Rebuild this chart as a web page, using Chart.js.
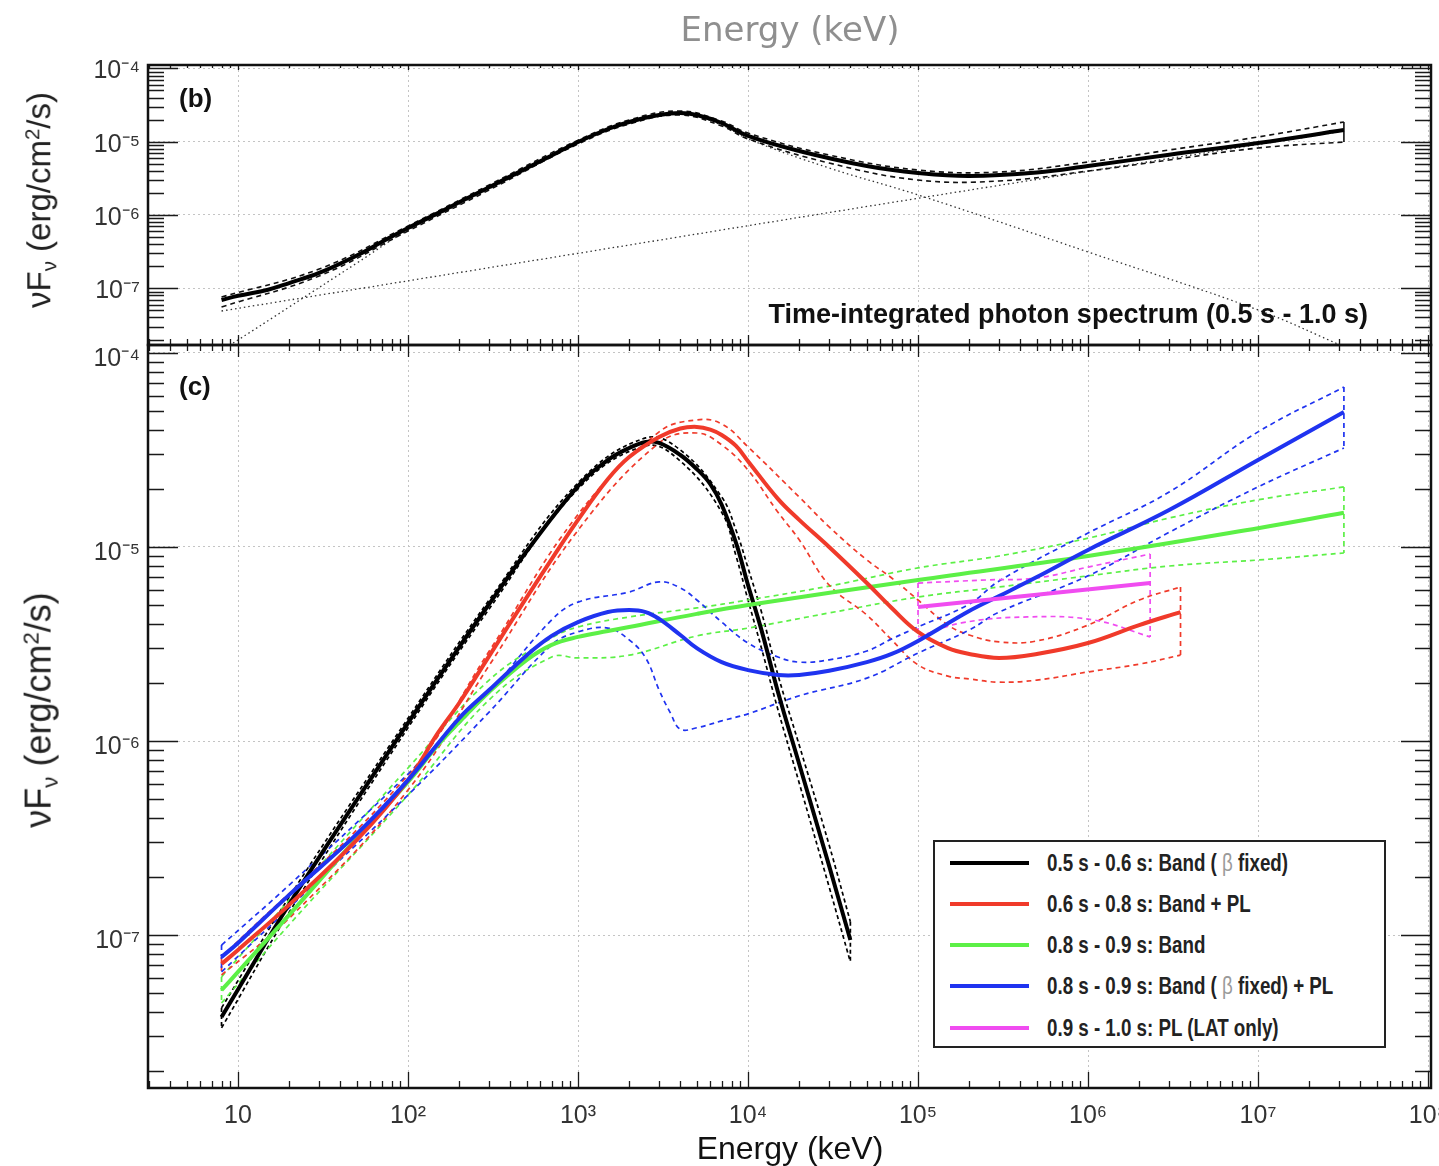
<!DOCTYPE html>
<html>
<head>
<meta charset="utf-8">
<script src="https://cdn.jsdelivr.net/npm/chart.js@4.4.1/dist/chart.umd.min.js"></script>
<style>
html,body{margin:0;padding:0;background:#fff;}
body{width:1439px;height:1166px;position:relative;overflow:hidden;font-family:'Liberation Sans',Arial,sans-serif;color:#111;}
canvas{position:absolute;left:0;}
#cTop{top:0;width:1439px;height:360px;}
#cBot{top:330px;width:1439px;height:836px;}
.txt{position:absolute;white-space:nowrap;line-height:1;}
.ytitle{transform:translate(-50%,-50%) rotate(-90deg);color:#222;}
.ytitle sub{font-size:62%;vertical-align:-0.28em;}
.ytitle sup{font-size:62%;vertical-align:0.55em;}
#legend{position:absolute;left:933px;top:840px;width:453px;height:208px;box-sizing:border-box;border:2px solid #222;background:#fff;}
#legend .row{position:absolute;left:0;height:0;}
#legend .sw{position:absolute;left:15px;top:-2px;width:79px;height:4px;}
#legend .lt{position:absolute;left:112px;top:0;transform-origin:0 50%;white-space:nowrap;font-weight:bold;color:#222;line-height:1;}
#legend .beta{color:#9a9a9a;font-weight:normal;}
</style>
</head>
<body>
<canvas id="cTop" width="1439" height="360"></canvas>
<canvas id="cBot" width="1439" height="836"></canvas>

<div class="txt" id="topTitle" style="left:790px;top:29px;transform:translate(-50%,-50%);font-family:'DejaVu Sans',sans-serif;font-size:34px;color:#8f8f8f;">Energy (keV)</div>
<div class="txt" style="left:179px;top:98px;transform:translateY(-50%);font-weight:bold;font-size:26px;">(b)</div>
<div class="txt" style="left:179px;top:386px;transform:translateY(-50%);font-weight:bold;font-size:26px;">(c)</div>
<div class="txt" style="right:71px;top:314px;transform:translateY(-50%);font-weight:bold;font-size:27px;">Time-integrated photon spectrum (0.5 s - 1.0 s)</div>
<div class="txt ytitle" style="left:41px;top:200px;font-size:33px;">νF<sub>ν</sub> (erg/cm<sup>2</sup>/s)</div>
<div class="txt ytitle" style="left:41px;top:710px;font-size:36px;">νF<sub>ν</sub> (erg/cm<sup>2</sup>/s)</div>
<div class="txt" style="left:790px;top:1148px;transform:translate(-50%,-50%);font-size:32px;color:#111;">Energy (keV)</div>
<div id="legend"></div>

<script>
// ---------------- axis ticks ----------------
const xTickValues = [10, 1e2, 1e3, 1e4, 1e5, 1e6, 1e7, 1e8];
const xTickLabels = ['10', '10²', '10³', '10⁴', '10⁵', '10⁶', '10⁷', '10⁸'];
const yTickValues = [1e-4, 1e-5, 1e-6, 1e-7];
const yTickLabels = ['10⁻⁴', '10⁻⁵', '10⁻⁶', '10⁻⁷'];
const X_MIN = 2.955, X_MAX = 1.041e8;
const YB_MIN = 1.684e-8, YB_MAX = 1.113e-4;   // panel (b)
const YC_MIN = 1.627e-8, YC_MAX = 1.0995e-4;  // panel (c)

// ---------------- panel (b): time-integrated ----------------
const bTotalE = [8,10,15,20,30,50,70,100,150,200,300,500,700,1000,1500,2000,3000,4000,5000,7000,1e4,2e4,5e4,1e5,2e5,5e5,1e6,3e6,1e7,3.2e7];
const bTotalF = [6.92e-8,7.9e-8,9.57e-8,1.18e-7,1.62e-7,2.80e-7,4.28e-7,6.65e-7,1.06e-6,1.49e-6,2.39e-6,4.38e-6,6.50e-6,9.91e-6,1.49e-5,1.86e-5,2.31e-5,2.46e-5,2.31e-5,1.80e-5,1.20e-5,7.47e-6,4.66e-6,3.74e-6,3.40e-6,3.80e-6,4.66e-6,6.65e-6,9.6e-6,1.44e-5];
const bErrE = [8,30,100,300,1000,2000,4000,7000,1e4,3e4,1e5,3e5,1e6,3e6,1e7,3.2e7];
const bUpperF = [7.60e-8,1.83e-7,7.08e-7,2.57e-6,1.05e-5,1.98e-5,2.62e-5,1.91e-5,1.31e-5,6.59e-6,4.11e-6,3.86e-6,5.28e-6,7.71e-6,1.16e-5,1.86e-5];
const bLowerF = [5.56e-8,1.47e-7,6.05e-7,2.19e-6,9.30e-6,1.74e-5,2.31e-5,1.64e-5,1.09e-5,5.12e-6,3.00e-6,2.91e-6,3.98e-6,5.62e-6,8.20e-6,9.91e-6];
const bBandE = [8,10,20,50,100,200,500,1000,2000,4000,7000,1e4,3e4,1e5,1e6,1e7,3.2e7];
const bBandF = [1.44e-8,1.97e-8,5.56e-8,2.21e-7,6.24e-7,1.41e-6,4.11e-6,9.60e-6,1.80e-5,2.39e-5,1.69e-5,1.09e-5,4.38e-6,1.88e-6,3.13e-7,5.06e-8,1.6e-8];
const bPLE = [8,1000,1e5,3.2e7];
const bPLF = [4.9e-8,3.0e-7,1.69e-6,1.40e-5];

// ---------------- panel (c): time-resolved ----------------
// 0.5 s - 0.6 s : Band (beta fixed)
const blackE = [8,10,20,50,100,200,300,500,1000,1500,2000,2500,3000,4000,5000,6000,7000,8500,1e4,1.2e4,1.5e4,2e4,3e4,4e4];
const blackF = [3.78e-8,5.24e-8,1.44e-7,4.97e-7,1.24e-6,3.05e-6,5.08e-6,9.53e-6,2.06e-5,2.81e-5,3.24e-5,3.48e-5,3.44e-5,2.98e-5,2.52e-5,2.11e-5,1.65e-5,1.05e-5,6.37e-6,3.73e-6,1.79e-6,7.61e-7,2.27e-7,9.42e-8];
const blackErrE = [8,20,100,300,1000,2500,4000,7000,8500,1e4,1.2e4,1.5e4,2e4,3e4,4e4];
const blackUpF = [4.21e-8,1.57e-7,1.31e-6,5.33e-6,2.14e-5,3.65e-5,3.16e-5,1.81e-5,1.22e-5,7.80e-6,4.62e-6,2.19e-6,9.53e-7,2.91e-7,1.17e-7];
const blackLoF = [3.32e-8,1.31e-7,1.17e-6,4.79e-6,1.99e-5,3.32e-5,2.77e-5,1.51e-5,8.99e-6,5.33e-6,3.01e-6,1.45e-6,6.08e-7,1.77e-7,7.26e-8];

// 0.6 s - 0.8 s : Band + PL
const redE = [8,10,20,50,100,150,200,300,500,700,1000,1500,2000,3000,4000,5000,6000,7000,8500,1e4,1.5e4,2e4,3e4,5e4,7e4,1e5,1.5e5,2e5,3e5,5e5,1e6,2e6,3.5e6];
const redF = [7.09e-8,8.37e-8,1.43e-7,3.09e-7,6.29e-7,1.10e-6,1.57e-6,2.74e-6,5.52e-6,8.67e-6,1.38e-5,2.24e-5,2.91e-5,3.69e-5,4.08e-5,4.16e-5,4.03e-5,3.78e-5,3.32e-5,2.77e-5,1.77e-5,1.38e-5,1.00e-5,6.52e-6,4.85e-6,3.65e-6,3.01e-6,2.81e-6,2.68e-6,2.81e-6,3.20e-6,3.96e-6,4.62e-6];
const redUpE = [8,100,300,1000,3000,5000,7000,1e4,2e4,3e4,5e4,7e4,1e5,1.5e5,2e5,3e5,5e5,1e6,2e6,3.5e6];
const redUpF = [7.70e-8,6.68e-7,2.90e-6,1.47e-5,3.92e-5,4.52e-5,4.31e-5,3.28e-5,1.81e-5,1.27e-5,8.57e-6,6.92e-6,5.33e-6,3.96e-6,3.52e-6,3.24e-6,3.28e-6,3.96e-6,5.33e-6,6.22e-6];
const redLoE = [8,20,100,300,1000,3000,5000,7000,1e4,1.5e4,2e4,3e4,5e4,7e4,1e5,1.5e5,2e5,3e5,5e5,1e6,2e6,3.5e6];
const redLoF = [6.22e-8,1.22e-7,5.59e-7,2.45e-6,1.22e-5,3.44e-5,3.87e-5,3.36e-5,2.49e-5,1.51e-5,1.09e-5,6.37e-6,4.46e-6,3.32e-6,2.47e-6,2.16e-6,2.09e-6,2.01e-6,2.06e-6,2.27e-6,2.49e-6,2.77e-6];

// 0.8 s - 0.9 s : Band
const greenE = [8,10,20,50,100,150,200,300,500,700,1000,1500,2000,5000,1e4,1e5,1e6,1e7,3.2e7];
const greenF = [5.20e-8,6.45e-8,1.27e-7,3.16e-7,6.15e-7,9.53e-7,1.25e-6,1.79e-6,2.62e-6,3.13e-6,3.44e-6,3.69e-6,3.87e-6,4.52e-6,5.02e-6,6.76e-6,8.99e-6,1.25e-5,1.50e-5];
const greenErrE = [8,20,100,300,700,1000,2000,5000,1e4,3e4,1e5,3e5,1e6,3e6,1e7,3.2e7];
const greenUpF = [6.08e-8,1.51e-7,7.26e-7,2.06e-6,3.40e-6,3.87e-6,4.36e-6,4.85e-6,5.33e-6,6.29e-6,7.80e-6,8.99e-6,1.11e-5,1.41e-5,1.75e-5,2.04e-5];
const greenLoF = [4.46e-8,1.13e-7,5.27e-7,1.63e-6,2.71e-6,2.68e-6,2.77e-6,3.48e-6,3.82e-6,4.57e-6,5.52e-6,6.22e-6,7.10e-6,7.98e-6,8.57e-6,9.31e-6];

// 0.8 s - 0.9 s : Band (beta fixed) + PL
const blueE = [8,10,20,50,100,200,300,500,700,1000,1500,2000,2500,3000,4000,5000,7000,1e4,1.5e4,2e4,3e4,5e4,7e4,1e5,2e5,3e5,5e5,1e6,3e6,1e7,3.2e7];
const blueF = [7.70e-8,9.10e-8,1.61e-7,3.32e-7,6.29e-7,1.31e-6,1.83e-6,2.77e-6,3.48e-6,4.10e-6,4.62e-6,4.73e-6,4.62e-6,4.26e-6,3.52e-6,3.01e-6,2.55e-6,2.32e-6,2.19e-6,2.19e-6,2.30e-6,2.55e-6,2.81e-6,3.28e-6,4.68e-6,5.59e-6,7.00e-6,9.66e-6,1.55e-5,2.81e-5,4.97e-5];
const blueUpE = [8,20,100,300,700,1000,2000,3000,4000,5000,7000,1e4,1.5e4,2e4,3e4,5e4,7e4,1e5,2e5,3e5,1e6,3e6,1e7,3.2e7];
const blueUpF = [8.87e-8,1.81e-7,6.76e-7,1.79e-6,4.21e-6,5.20e-6,5.86e-6,6.61e-6,6.15e-6,5.33e-6,4.10e-6,3.20e-6,2.71e-6,2.55e-6,2.62e-6,2.91e-6,3.36e-6,3.87e-6,5.08e-6,6.68e-6,1.18e-5,1.92e-5,3.92e-5,6.68e-5];
const blueLoE = [8,20,100,300,700,1000,1500,2000,2500,3000,3500,4000,5000,7000,1e4,2e4,5e4,1e5,2e5,3e5,1e6,3e6,1e7,3.2e7];
const blueLoF = [6.45e-8,1.38e-7,5.27e-7,1.41e-6,3.13e-6,3.65e-6,3.82e-6,3.32e-6,2.68e-6,1.83e-6,1.39e-6,1.15e-6,1.17e-6,1.27e-6,1.38e-6,1.71e-6,2.11e-6,2.84e-6,3.73e-6,4.62e-6,7.10e-6,1.19e-5,2.04e-5,3.24e-5];

// 0.9 s - 1.0 s : PL (LAT only)
const magE = [1e5, 2.32e6];
const magF = [4.91e-6, 6.52e-6];
const magUpE = [1e5, 2.5e5, 5e5, 1e6, 2.32e6];
const magUpF = [6.52e-6, 6.76e-6, 6.92e-6, 7.88e-6, 9.20e-6];
const magLoE = [1e5, 1.8e5, 4.4e5, 1.07e6, 2.32e6];
const magLoF = [3.44e-6, 4.06e-6, 4.36e-6, 4.21e-6, 3.44e-6];

const legendLabels = [
  '0.5 s - 0.6 s: Band ( <span class="beta">β</span> fixed)',
  '0.6 s - 0.8 s: Band + PL',
  '0.8 s - 0.9 s: Band',
  '0.8 s - 0.9 s: Band ( <span class="beta">β</span> fixed) + PL',
  '0.9 s - 1.0 s: PL (LAT only)'
];
const seriesColors = ['#000000', '#f03a2a', '#5cf046', '#1f33f0', '#f04cf0'];

// ---------------- helpers ----------------
function hasFont(name) {
  const c = document.createElement('canvas').getContext('2d');
  const s = 'abcdefghijklmnopqrstuvwxyz0123456789ABCDEF';
  let diff = false;
  for (const base of ['monospace', 'serif']) {
    c.font = '40px ' + base; const w1 = c.measureText(s).width;
    c.font = '40px "' + name + '", ' + base; const w2 = c.measureText(s).width;
    if (Math.abs(w1 - w2) > 0.5) diff = true;
  }
  return diff;
}
const NARROW = hasFont('Liberation Sans Narrow') ? "'Liberation Sans Narrow'" : "'Liberation Sans', Arial";

function pts(E, F) { return E.map((e, i) => ({ x: e, y: F[i] })); }
function curve(E, F, color, width, dash, order) {
  return { data: pts(E, F), borderColor: color, borderWidth: width, borderDash: dash || [],
           pointRadius: 0, fill: false, tension: 0.4, order: order };
}
function closer(E1, F1, E2, F2, which, color, width, dash, order) {
  const i1 = which === 'first' ? 0 : E1.length - 1;
  const i2 = which === 'first' ? 0 : E2.length - 1;
  return { data: [{ x: E1[i1], y: F1[i1] }, { x: E2[i2], y: F2[i2] }], borderColor: color,
           borderWidth: width, borderDash: dash || [], pointRadius: 0, fill: false, tension: 0, order: order };
}

const frameTicks = {
  id: 'frameTicks',
  afterDraw(chart, args, o) {
    const { ctx, chartArea: a } = chart;
    const xs = chart.scales.x, ys = chart.scales.y;
    ctx.save();
    ctx.strokeStyle = '#1a1a1a'; ctx.lineWidth = 1.3; ctx.setLineDash([]);
    ctx.beginPath();
    const each = (sc, fn) => {
      const d0 = Math.floor(Math.log10(sc.min)), d1 = Math.ceil(Math.log10(sc.max));
      for (let d = d0; d <= d1; d++) for (let k = 1; k <= 9; k++) {
        const v = k * Math.pow(10, d);
        if (v < sc.min * 0.999 || v > sc.max * 1.001) continue;
        fn(Math.round(sc.getPixelForValue(v)) + 0.5, k === 1);
      }
    };
    each(xs, (p, m) => {
      const b = o.xb[m ? 1 : 0], t = o.xt[m ? 1 : 0];
      if (b) { ctx.moveTo(p, a.bottom); ctx.lineTo(p, a.bottom - b); }
      if (t) { ctx.moveTo(p, a.top); ctx.lineTo(p, a.top + t); }
    });
    each(ys, (p, m) => {
      const l = o.yl[m ? 1 : 0], r = o.yr[m ? 1 : 0];
      ctx.moveTo(a.left, p); ctx.lineTo(a.left + l, p);
      ctx.moveTo(a.right, p); ctx.lineTo(a.right - r, p);
    });
    ctx.stroke();
    ctx.lineWidth = o.frame; ctx.strokeStyle = '#111';
    ctx.strokeRect(a.left, a.top, a.right - a.left, a.bottom - a.top);
    ctx.restore();
  }
};

const TICK_FONT = { family: "'Liberation Sans', Arial, sans-serif", size: 25 };

function makeOptions(cfg) {
  return {
    responsive: false, animation: false, events: [],
    layout: { padding: { top: cfg.padTop, right: 8, left: 0, bottom: 0 } },
    plugins: { legend: { display: false }, tooltip: { enabled: false }, title: { display: false },
               frameTicks: cfg.ticks },
    scales: {
      x: {
        type: 'logarithmic', min: X_MIN, max: X_MAX,
        afterBuildTicks: s => { s.ticks = xTickValues.map(v => ({ value: v })); },
        afterFit: s => { s.height = cfg.xH; s.paddingLeft = 0; s.paddingRight = 0; },
        grid: { color: '#c4c4c4', lineWidth: 1, drawTicks: false },
        border: { display: false, dash: [2, 3] },
        ticks: { display: cfg.xLabels, autoSkip: false, maxRotation: 0, minRotation: 0, padding: 13,
                 color: '#333', font: TICK_FONT, callback: (v, i) => xTickLabels[i] }
      },
      y: {
        type: 'logarithmic', min: cfg.yMin, max: cfg.yMax,
        afterBuildTicks: s => { s.ticks = yTickValues.map(v => ({ value: v })); },
        afterFit: s => { s.width = 148; s.paddingTop = 0; s.paddingBottom = 0; },
        grid: { color: '#c4c4c4', lineWidth: 1, drawTicks: false },
        border: { display: false, dash: [2, 3] },
        ticks: { autoSkip: false, padding: 8, labelOffset: cfg.yLabelOffset, color: '#333',
                 font: TICK_FONT, callback: (v, i) => yTickLabels[i] }
      }
    }
  };
}

// ---------------- panel (b) chart ----------------
const DASH = [5, 4];
const DOT = [1.5, 3];
const topDatasets = [
  curve(bTotalE, bTotalF, '#000', 4, [], 1),
  curve(bErrE, bUpperF, '#111', 1.6, DASH, 5),
  curve(bErrE, bLowerF, '#111', 1.6, DASH, 5),
  closer(bErrE, bUpperF, bErrE, bLowerF, 'last', '#111', 1.6, [], 5),
  curve(bBandE, bBandF, '#333', 1.3, DOT, 6),
  curve(bPLE, bPLF, '#333', 1.3, DOT, 6)
];
new Chart(document.getElementById('cTop'), {
  type: 'line',
  data: { datasets: topDatasets },
  options: makeOptions({
    padTop: 65, xH: 15, xLabels: false, yMin: YB_MIN, yMax: YB_MAX, yLabelOffset: 3,
    ticks: { xb: [6, 10], xt: [3, 5], yl: [16, 30], yr: [16, 30], frame: 2.5 }
  }),
  plugins: [frameTicks]
});

// ---------------- panel (c) chart ----------------
const series = [
  { E: blackE, F: blackF, uE: blackErrE, uF: blackUpF, lE: blackErrE, lF: blackLoF, dash: [4, 3], ord: 5 },
  { E: redE, F: redF, uE: redUpE, uF: redUpF, lE: redLoE, lF: redLoF, dash: DASH, ord: 3 },
  { E: greenE, F: greenF, uE: greenErrE, uF: greenUpF, lE: greenErrE, lF: greenLoF, dash: DASH, ord: 4 },
  { E: blueE, F: blueF, uE: blueUpE, uF: blueUpF, lE: blueLoE, lF: blueLoF, dash: DASH, ord: 2 },
  { E: magE, F: magF, uE: magUpE, uF: magUpF, lE: magLoE, lF: magLoF, dash: DASH, ord: 1 }
];
const botDatasets = [];
series.forEach((s, i) => {
  const c = seriesColors[i];
  botDatasets.push(curve(s.E, s.F, c, 4, [], s.ord));
  botDatasets.push(curve(s.uE, s.uF, c, 1.7, s.dash, s.ord + 10));
  botDatasets.push(curve(s.lE, s.lF, c, 1.7, s.dash, s.ord + 10));
  botDatasets.push(closer(s.uE, s.uF, s.lE, s.lF, 'last', c, 1.7, s.dash, s.ord + 10));
  botDatasets.push(closer(s.uE, s.uF, s.lE, s.lF, 'first', c, 1.7, s.dash, s.ord + 10));
});
new Chart(document.getElementById('cBot'), {
  type: 'line',
  data: { datasets: botDatasets },
  options: makeOptions({
    padTop: 15, xH: 78, xLabels: true, yMin: YC_MIN, yMax: YC_MAX, yLabelOffset: 6,
    ticks: { xb: [7, 16], xt: [6, 12], yl: [16, 30], yr: [16, 30], frame: 2.5 }
  }),
  plugins: [frameTicks]
});

// ---------------- legend (HTML) ----------------
const legendRowsY = [21, 62, 103, 144, 186];
const lg = document.getElementById('legend');
const spans = [];
legendLabels.forEach((t, i) => {
  const r = document.createElement('div');
  r.className = 'row';
  r.style.top = legendRowsY[i] + 'px';
  r.innerHTML = '<span class="sw" style="background:' + seriesColors[i] + '"></span>' +
                '<span class="lt" style="font-family:' + NARROW + ', sans-serif;font-size:23px;">' + t + '</span>';
  lg.appendChild(r);
  spans.push(r.querySelector('.lt'));
});
// condense the legend text horizontally so the first label spans the reference width (241 px)
const w0 = spans[0].getBoundingClientRect().width;
const k = Math.min(1, 241 / w0);
spans.forEach(s => { s.style.transform = 'translateY(-50%) scaleX(' + k.toFixed(3) + ')'; });
</script>
</body>
</html>
